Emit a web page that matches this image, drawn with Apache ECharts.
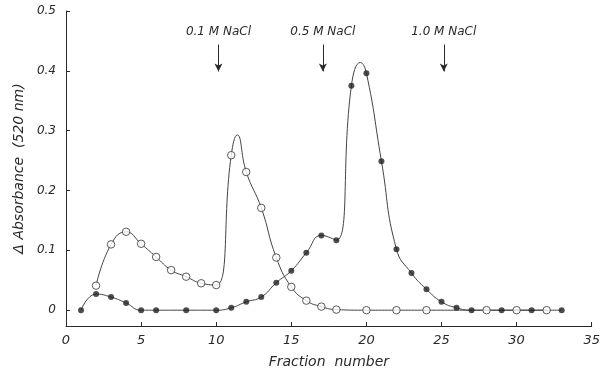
<!DOCTYPE html>
<html><head><meta charset="utf-8">
<script src="https://cdn.jsdelivr.net/npm/echarts@6/dist/echarts.min.js"></script>
<style>html,body{margin:0;padding:0;background:#fff}#c{width:603px;height:374px}</style>
</head><body><div id="c"></div>
<script>
// Data
const openFractions = [2,3,4,5,6,7,8,9,10,11,12,13,14,15,16,17,18,20,22,24,28,30,32];
const openValues = [0.041,0.110,0.131,0.111,0.089,0.067,0.056,0.045,0.042,0.259,0.231,0.171,0.088,0.039,0.016,0.006,0.001,0,0,0,0,0,0];
const filledFractions = [1,2,3,4,5,6,8,10,11,12,13,14,15,16,17,18,19,20,21,22,23,24,25,26,27,29,31,33];
const filledValues = [0,0.027,0.022,0.012,0,0,0,0,0.004,0.014,0.022,0.046,0.066,0.096,0.125,0.117,0.375,0.396,0.249,0.102,0.062,0.035,0.014,0.004,0,0,0,0];
// peaks of the hand-drawn curves
const openPeak = [11.4, 0.293];
const filledPeak = [19.6, 0.414];
const saltLabels = ['0.1 M NaCl','0.5 M NaCl','1.0 M NaCl'];
const saltFractions = [10.15, 17.1, 25.15];
const yTicks = [0,0.1,0.2,0.3,0.4,0.5];
const xTitle = 'Fraction  number';
const yTitle = 'Δ Absorbance  (520 nm)';

const FONT = 'DejaVu Sans';
const INK = '#2a2a2a';

function pts(xs, ys){ return xs.map((x,i)=>[x, ys[i]]); }
function curve(xs, ys, peak){ return pts(xs, ys).concat([peak]).sort((a,b)=>a[0]-b[0]); }

const chart = echarts.init(document.getElementById('c'), null, {renderer:'canvas'});
chart.setOption({
  animation:false,
  backgroundColor:'#fff',
  grid:{left:66, right:10, top:11, bottom:44},
  xAxis:{
    type:'value', min:0, max:35, interval:5,
    name:xTitle, nameLocation:'middle', nameGap:29,
    nameTextStyle:{fontFamily:FONT, fontStyle:'italic', fontSize:14, color:INK},
    axisLine:{show:true, onZero:false, lineStyle:{color:INK, width:1}},
    axisTick:{show:true, inside:true, length:4, lineStyle:{color:INK}},
    axisLabel:{fontFamily:FONT, fontStyle:'italic', fontSize:13, color:INK, margin:8},
    splitLine:{show:false}
  },
  yAxis:{
    type:'value', min:-0.0264, max:0.5,
    name:yTitle, nameLocation:'middle', nameRotate:90, nameGap:36,
    nameTextStyle:{fontFamily:FONT, fontStyle:'italic', fontSize:14, color:INK},
    axisLine:{show:true, onZero:false, lineStyle:{color:INK, width:1}},
    axisTick:{show:true, inside:true, length:4, customValues:yTicks, lineStyle:{color:INK}},
    axisLabel:{fontFamily:FONT, fontStyle:'italic', fontSize:12, color:INK, margin:10,
      customValues:yTicks, formatter:v=> v===0 ? '0' : v.toFixed(1)},
    splitLine:{show:false}
  },
  series:[
    {type:'line', data:curve(openFractions, openValues, openPeak), smooth:0.5, showSymbol:false,
     lineStyle:{color:'#444', width:1}, silent:true, z:2},
    {type:'line', data:curve(filledFractions, filledValues, filledPeak), smooth:0.5, showSymbol:false,
     lineStyle:{color:'#444', width:1}, silent:true, z:2},
    {type:'scatter', data:pts(openFractions, openValues), symbol:'circle', symbolSize:7.5,
     itemStyle:{color:'#fff', borderColor:'#333', borderWidth:1}, z:4},
    {type:'scatter', data:pts(filledFractions, filledValues), symbol:'circle', symbolSize:6,
     itemStyle:{color:'#222'}, z:4,
     markLine:{
       silent:true, symbol:['none','arrow'], symbolSize:[6,8],
       lineStyle:{color:INK, width:1, type:'solid'},
       label:{show:true, position:'start', distance:7, formatter:p=>p.name,
         fontFamily:FONT, fontStyle:'italic', fontSize:12, color:INK},
       data: saltFractions.map((x,i)=>[{name:saltLabels[i], coord:[x,0.444]},{coord:[x,0.399]}])
     }}
  ]
});
</script></body></html>
